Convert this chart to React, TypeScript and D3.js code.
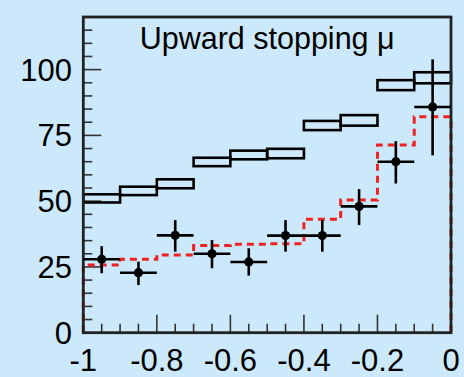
import React from "react";
import * as d3 from "d3";

const binEdges = [-1, -0.9, -0.8, -0.7, -0.6, -0.5, -0.4, -0.3, -0.2, -0.1, 0];
const expectLow = [49.5, 52.3, 54.9, 63.3, 65.9, 66.3, 77.0, 78.7, 92.2, 94.8];
const expectHigh = [52.6, 55.5, 58.3, 66.5, 69.2, 69.9, 80.5, 82.7, 96.0, 99.0];
const dataValues = [27.9, 22.8, 37.0, 30.0, 26.9, 36.9, 36.9, 48.0, 65.0, 85.8];
const dataErrHigh = [5.0, 4.2, 5.8, 5.2, 5.2, 5.9, 5.9, 6.6, 7.8, 18.1];
const dataErrLow = [5.3, 4.7, 6.2, 5.5, 5.2, 6.1, 6.1, 7.1, 8.3, 18.4];
const oscValues = [25.7, 27.9, 29.5, 33.1, 33.6, 33.8, 43.1, 50.4, 71.3, 82.1];
const xTickLabels = [-1, -0.8, -0.6, -0.4, -0.2, 0];
const yTickLabels = [0, 25, 50, 75, 100];
const title = "Upward stopping μ";

const W = 464;
const H = 377;
const m = { left: 83.3, right: 451, top: 17, bottom: 332.7 };
const BG = "#cce9fc";
const FONT = "'Liberation Sans', Arial, Helvetica, sans-serif";

export default function App() {
  const x = d3.scaleLinear().domain([-1, 0]).range([m.left, m.right]);
  const y = d3.scaleLinear().domain([0, 120]).range([m.bottom, m.top]);

  const xMinor = d3.range(0, 21).map((i) => -1 + i * 0.05);
  const yMinor = d3.range(0, 25).map((i) => i * 5);

  const oscPts: [number, number][] = [[binEdges[0], 0]];
  oscValues.forEach((v, i) => {
    oscPts.push([binEdges[i], v]);
    oscPts.push([binEdges[i + 1], v]);
  });
  oscPts.push([binEdges[binEdges.length - 1], 0]);
  const oscLine = d3
    .line<[number, number]>()
    .x((d) => x(d[0]))
    .y((d) => y(d[1]));

  const bins = dataValues.map((v, i) => ({
    lo: binEdges[i],
    hi: binEdges[i + 1],
    c: (binEdges[i] + binEdges[i + 1]) / 2,
    v,
    eh: dataErrHigh[i],
    el: dataErrLow[i],
    bl: expectLow[i],
    bh: expectHigh[i],
  }));

  return (
    <svg
      width={W}
      height={H}
      style={{ position: "fixed", left: 0, top: 0, display: "block" }}
    >
      <rect x={0} y={0} width={W} height={H} fill={BG} />

      {/* ticks */}
      <g stroke="#333" strokeWidth={1.6}>
        {yMinor.map((v) => {
          const major = v % 25 === 0;
          return (
            <line
              key={"yt" + v}
              x1={m.left}
              x2={m.left + (major ? 18 : 9)}
              y1={y(v)}
              y2={y(v)}
            />
          );
        })}
        {xMinor.map((v, i) => {
          const major = i % 4 === 0;
          return (
            <line
              key={"xt" + i}
              x1={x(v)}
              x2={x(v)}
              y1={m.bottom}
              y2={m.bottom - (major ? 18 : 9)}
            />
          );
        })}
      </g>

      {/* expectation boxes */}
      <g fill="none" stroke="#000" strokeWidth={2.6}>
        {bins.map((b, i) => (
          <rect
            key={"box" + i}
            x={x(b.lo)}
            y={y(b.bh)}
            width={x(b.hi) - x(b.lo)}
            height={y(b.bl) - y(b.bh)}
          />
        ))}
      </g>

      {/* oscillation histogram */}
      <path
        d={oscLine(oscPts) || ""}
        fill="none"
        stroke="#ee2222"
        strokeWidth={3}
        strokeDasharray="7,5"
      />

      {/* frame */}
      <rect
        x={m.left}
        y={m.top}
        width={m.right - m.left}
        height={m.bottom - m.top}
        fill="none"
        stroke="#222"
        strokeWidth={2.8}
      />

      {/* data points */}
      <g stroke="#000" strokeWidth={2.6}>
        {bins.map((b, i) => (
          <g key={"pt" + i}>
            <line x1={x(b.lo)} x2={x(b.hi)} y1={y(b.v)} y2={y(b.v)} />
            <line x1={x(b.c)} x2={x(b.c)} y1={y(b.v + b.eh)} y2={y(b.v - b.el)} />
            <circle cx={x(b.c)} cy={y(b.v)} r={4.6} fill="#000" stroke="none" />
          </g>
        ))}
      </g>

      {/* tick labels */}
      <g fontFamily={FONT} fontSize={31} fill="#000">
        {yTickLabels.map((v) => (
          <text key={"yl" + v} x={72} y={y(v) + 11} textAnchor="end">
            {v}
          </text>
        ))}
        {xTickLabels.map((v) => (
          <text key={"xl" + v} x={x(v)} y={371} textAnchor="middle">
            {String(v)}
          </text>
        ))}
      </g>

      <text
        x={(m.left + m.right) / 2}
        y={48.5}
        textAnchor="middle"
        fontFamily={FONT}
        fontSize={30.5}
        fill="#000"
      >
        {title}
      </text>
    </svg>
  );
}
